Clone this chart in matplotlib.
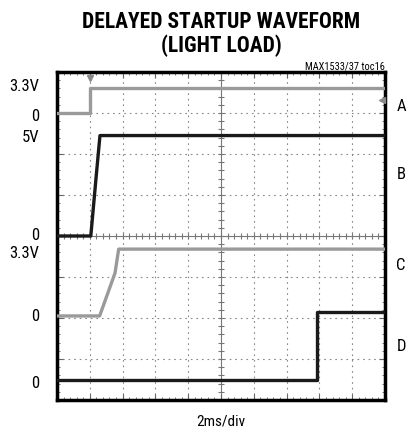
import numpy as np
import matplotlib.pyplot as plt
from matplotlib import font_manager

# trace data, time in divisions (2ms/div), level in screen divisions
t_a = [0.0, 1.0, 1.0, 10.0]
y_a = [7.0, 7.0, 7.62, 7.62]
t_b = [0.0, 1.03, 1.2, 1.31, 10.0]
y_b = [4.0, 4.0, 5.5, 6.45, 6.45]
t_c = [0.0, 1.3, 1.77, 1.88, 10.0]
y_c = [2.05, 2.05, 3.1, 3.68, 3.68]
t_d = [0.0, 7.92, 7.92, 10.0]
y_d = [0.49, 0.49, 2.15, 2.15]

left_labels = ['3.3V', '0', '5V', '0', '3.3V', '0', '0']
left_pos = [7.64, 6.92, 6.4, 4.02, 3.57, 2.03, 0.4]
right_labels = ['A', 'B', 'C', 'D']
right_pos = [7.17, 5.5, 3.27, 1.3]

# pick a narrow face if one is there
names = {f.name for f in font_manager.fontManager.ttflist}
narrow = [n for n in ['Liberation Sans Narrow', 'DejaVu Sans Condensed', 'Roboto Condensed'] if n in names]
plt.rcParams['font.family'] = narrow + ['DejaVu Sans']
condensed = [f for f in font_manager.fontManager.ttflist
             if f.name == 'DejaVu Sans' and f.stretch == 'condensed']
if not narrow and condensed:
    plt.rcParams['font.stretch'] = 'condensed'

fig = plt.figure(figsize=(4.09, 4.32), dpi=100)
ax = fig.add_axes([57 / 409, 32 / 432, 328 / 409, 328 / 432])
ax.set_xlim(0, 10)
ax.set_ylim(0, 8)

# grid
for x in range(1, 10):
    if x != 5:
        ax.axvline(x, color='#888888', lw=0.8, ls=(0, (1.5, 3.5)), zorder=1)
for y in range(1, 8):
    if y != 4:
        ax.axhline(y, color='#888888', lw=0.8, ls=(0, (1.5, 3.5)), zorder=1)
ax.axvline(5, color='#777777', lw=0.8, zorder=1)
ax.axhline(4, color='#777777', lw=0.8, zorder=1)
minor_x = np.arange(0.2, 10, 0.2)
minor_y = np.arange(0.2, 8, 0.2)
ax.plot(minor_x, np.full(len(minor_x), 4), ls='none', marker='|', ms=5, color='#777777', mew=0.8, zorder=1)
ax.plot(np.full(len(minor_y), 5), minor_y, ls='none', marker='_', ms=5, color='#777777', mew=0.8, zorder=1)

ax.set_xticks(range(11))
ax.set_yticks(range(9))
ax.set_xticks(minor_x, minor=True)
ax.set_yticks(minor_y, minor=True)
ax.tick_params(which='both', direction='in', top=True, right=True,
               labelbottom=False, labelleft=False, color='#666666')
ax.tick_params(which='major', length=4)
ax.tick_params(which='minor', length=2.5)
for s in ax.spines.values():
    s.set_linewidth(2.5)

# traces
ax.plot(t_a, y_a, color='#9a9a9a', lw=2.4, zorder=3)
ax.plot(t_b, y_b, color='#1a1a1a', lw=2.4, zorder=3)
ax.plot(t_c, y_c, color='#9a9a9a', lw=2.4, zorder=3)
ax.plot(t_d, y_d, color='#1a1a1a', lw=2.4, zorder=3)

# trigger / reference markers
ax.plot([1.0], [7.85], marker='v', ms=5, color='#888888', clip_on=False, zorder=4)
ax.plot([9.92], [7.32], marker='<', ms=5, color='#888888', clip_on=False, zorder=4)

for lab, p in zip(left_labels, left_pos):
    ax.text(-0.55, p, lab, ha='right', va='center', fontsize=12, clip_on=False)
for lab, p in zip(right_labels, right_pos):
    ax.text(10.35, p, lab, ha='left', va='center', fontsize=12, clip_on=False)

fig.text(221 / 409, 1 - 11 / 432, 'DELAYED STARTUP WAVEFORM\n(LIGHT LOAD)', ha='center', va='top',
         fontsize=15.5, fontweight='bold', linespacing=1.1)
fig.text(385 / 409, 1 - 66 / 432, 'MAX1533/37 toc16', ha='right', va='center', fontsize=7.5)
fig.text(221 / 409, 1 - 422 / 432, '2ms/div', ha='center', va='center', fontsize=11)

fig.savefig('out.png', dpi=100)
